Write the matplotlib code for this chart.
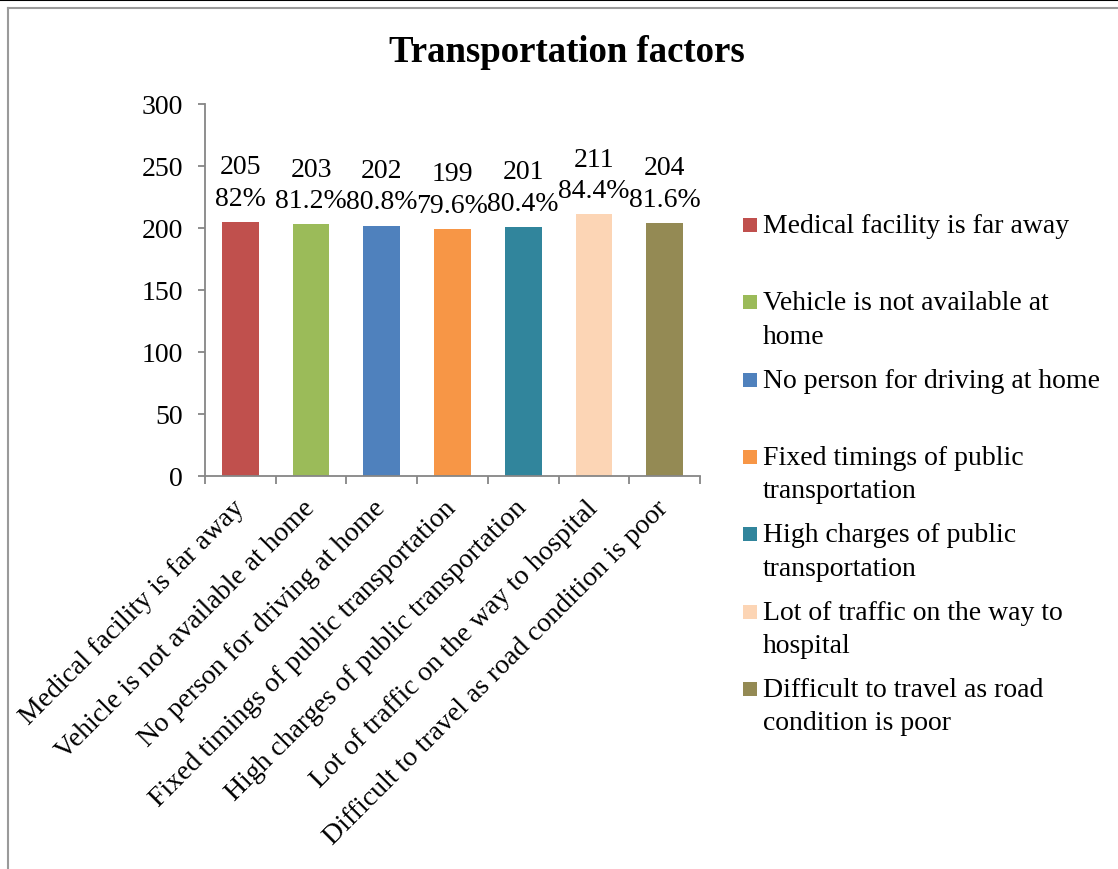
import matplotlib
matplotlib.use("Agg")
import matplotlib.pyplot as plt
from matplotlib.lines import Line2D
from matplotlib.patches import Rectangle
import numpy as np

plt.rcParams["font.family"] = ["Liberation Serif", "DejaVu Serif"]

# data
categories = [
    "Medical facility is far away",
    "Vehicle is not available at home",
    "No person for driving at home",
    "Fixed timings of public transportation",
    "High charges of public transportation",
    "Lot of traffic on the way to hospital",
    "Difficult to travel as road condition is poor",
]
counts = [205, 203, 202, 199, 201, 211, 204]
percents = ["82%", "81.2%", "80.8%", "79.6%", "80.4%", "84.4%", "81.6%"]
legend_labels = [
    "Medical facility is far away",
    "Vehicle is not available at\nhome",
    "No person for driving at home",
    "Fixed timings of public\ntransportation",
    "High charges of public\ntransportation",
    "Lot of traffic on the way to\nhospital",
    "Difficult to travel as road\ncondition is poor",
]
colors = ["#C0504D", "#9BBB59", "#4F81BD", "#F79646", "#31859C", "#FCD5B5", "#948A54"]
y_ticks = [0, 50, 100, 150, 200, 250, 300]

W, H = 1118, 870
fs = 20
grey = "#868686"

fig = plt.figure(figsize=(W / 100, H / 100), dpi=100)
ax = fig.add_axes([205 / W, 1 - 477 / H, 495 / W, 372 / H])

x = np.arange(len(categories))
ax.bar(x, counts, width=0.52, color=colors)

for xi, c, p in zip(x, counts, percents):
    ax.annotate(f"{c}\n{p}", (xi, c), xytext=(0, 8), textcoords="offset points",
                ha="center", va="bottom", fontsize=fs, linespacing=1.35)

ax.set_xlim(-0.5, len(categories) - 0.5)
ax.set_ylim(0, 300)
ax.set_yticks(y_ticks)
ax.tick_params(axis="y", labelsize=fs, length=5, width=1.3, color=grey, pad=11)

ax.set_xticks(x)
ax.set_xticklabels(categories, rotation=45, ha="right", va="center",
                   rotation_mode="anchor", fontsize=fs)
ax.tick_params(axis="x", which="major", length=0, pad=20)
ax.set_xticks(np.arange(len(categories) + 1) - 0.5, minor=True)
ax.tick_params(axis="x", which="minor", length=6, width=1.3, color=grey)

for s in ["top", "right"]:
    ax.spines[s].set_visible(False)
for s in ["left", "bottom"]:
    ax.spines[s].set_color(grey)
    ax.spines[s].set_linewidth(1.3)

# title
fig.text(567 / W, 1 - 52 / H, "Transportation factors", ha="center", va="center",
         fontsize=26.5, fontweight="bold")

# legend drawn by hand, Excel style
for i, (lab, col) in enumerate(zip(legend_labels, colors)):
    yc = 226 + i * 77.3
    fig.add_artist(Rectangle((743 / W, 1 - (yc + 7) / H), 14 / W, 14 / H,
                             transform=fig.transFigure, color=col, lw=0))
    fig.text(763 / W, 1 - (yc - 12) / H, lab, ha="left", va="top",
             fontsize=fs, linespacing=1.45)

# page edges
fig.add_artist(Line2D([0, 1], [1 - 1 / H, 1 - 1 / H], color="black", lw=1.5,
                      transform=fig.transFigure))
fig.add_artist(Line2D([7.5 / W, 1], [1 - 8.5 / H, 1 - 8.5 / H], color="#9a9a9a", lw=1.5,
                      transform=fig.transFigure))
fig.add_artist(Line2D([7.5 / W, 7.5 / W], [0, 1 - 8.5 / H], color="#9a9a9a", lw=1.5,
                      transform=fig.transFigure))

fig.savefig("out.png", dpi=100)
